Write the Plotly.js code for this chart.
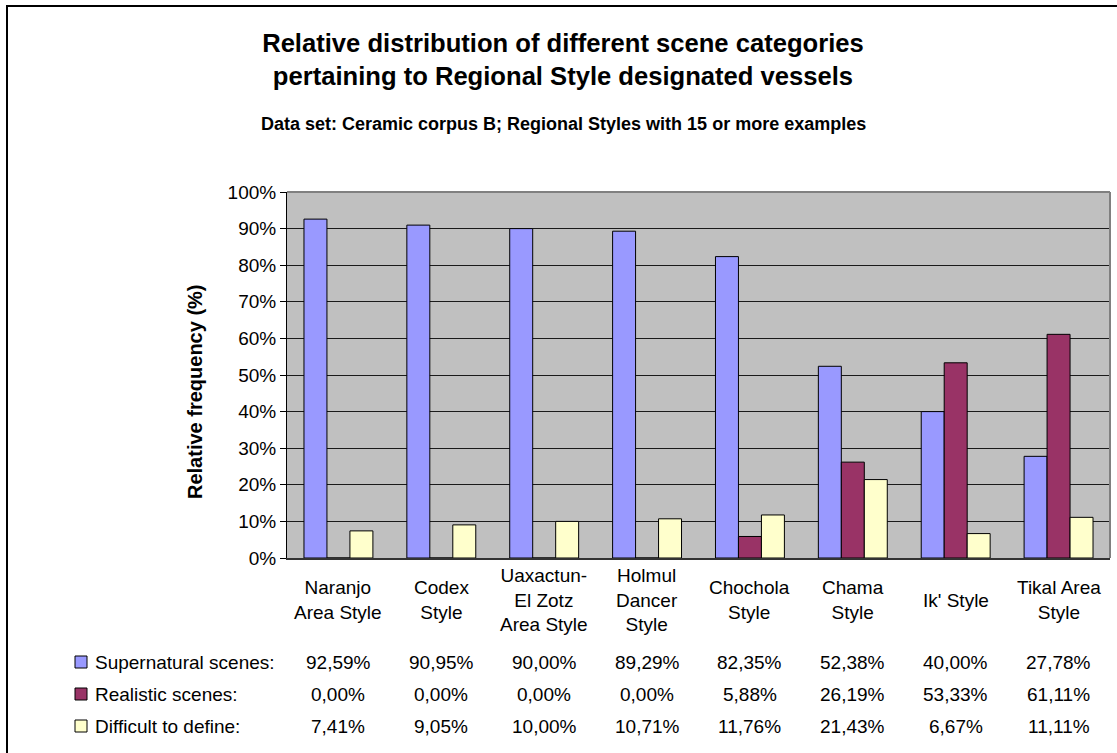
<!DOCTYPE html>
<html>
<head>
<meta charset="utf-8">
<script src="https://cdn.plot.ly/plotly-3.0.1.min.js"></script>
<style>
  html, body { margin: 0; padding: 0; background: #fff; }
  #chart { width: 1117px; height: 753px; }
</style>
</head>
<body>
<div id="chart"></div>
<script>
// ---- data ----
const categories = ["Naranjo<br>Area Style", "Codex<br>Style", "Uaxactun-<br>El Zotz<br>Area Style", "Holmul<br>Dancer<br>Style", "Chochola<br>Style", "Chama<br>Style", "Ik' Style", "Tikal Area<br>Style"];
const seriesNames = ["Supernatural scenes", "Realistic scenes", "Difficult to define"];
const supernatural = [92.59, 90.95, 90.00, 89.29, 82.35, 52.38, 40.00, 27.78];
const realistic = [0.00, 0.00, 0.00, 0.00, 5.88, 26.19, 53.33, 61.11];
const difficult = [7.41, 9.05, 10.00, 10.71, 11.76, 21.43, 6.67, 11.11];
const yTickValues = [0, 10, 20, 30, 40, 50, 60, 70, 80, 90, 100];
const titleText = "Relative distribution of different scene categories<br>pertaining to Regional Style designated vessels";
const subtitleText = "Data set: Ceramic corpus B; Regional Styles with 15 or more examples";
const yTitleText = "Relative frequency (%)";

// ---- styling ----
const colors = ["#9999FF", "#993366", "#FFFFCC"];
const FONT = "Liberation Sans, Arial, sans-serif";
const W = 1117, H = 753, ML = 287, MR = 7, MT = 192, MB = 195;
const PW = W - ML - MR, PH = H - MT - MB;
const px = x => (x - ML) / PW;
const py = y => (H - MB - y) / PH;

const allSeries = [supernatural, realistic, difficult];
const traces = allSeries.map((vals, i) => ({
  type: "bar",
  name: seriesNames[i],
  x: categories,
  y: vals,
  marker: { color: colors[i], line: { color: "#000", width: 1 } },
  hoverinfo: "x+y+name"
}));

const fmt = v => v.toFixed(2).replace(".", ",") + "%";
const rowY = [662, 694, 726];

const annotations = [];
// subtitle
annotations.push({
  text: "<b>" + subtitleText + "</b>", xref: "paper", yref: "paper",
  x: px(563), y: py(124), xanchor: "center", yanchor: "middle",
  showarrow: false, font: { family: FONT, size: 18, color: "#000" }
});
// y-axis title (placed like the original, slightly below plot centre)
annotations.push({
  text: "<b>" + yTitleText + "</b>", xref: "paper", yref: "paper",
  x: px(195), y: py(392), xanchor: "center", yanchor: "middle",
  textangle: -90, showarrow: false, font: { family: FONT, size: 20, color: "#000" }
});
// category labels (data-table header)
categories.forEach(c => {
  annotations.push({
    text: c, xref: "x", yref: "paper", x: c, y: py(600),
    xanchor: "center", yanchor: "middle", align: "center",
    showarrow: false, font: { family: FONT, size: 19, color: "#000" }
  });
});
// data-table rows
const shapes = [];
allSeries.forEach((vals, i) => {
  annotations.push({
    text: seriesNames[i] + ":", xref: "paper", yref: "paper",
    x: px(93), y: py(rowY[i]), xanchor: "left", yanchor: "middle",
    showarrow: false, font: { family: FONT, size: 19, color: "#000" }
  });
  shapes.push({
    type: "rect", xref: "paper", yref: "paper",
    x0: px(75), x1: px(87), y0: py(rowY[i] - 6), y1: py(rowY[i] + 6),
    fillcolor: colors[i], line: { color: "#000", width: 1 }
  });
  vals.forEach((v, j) => {
    annotations.push({
      text: fmt(v), xref: "x", yref: "paper", x: categories[j], y: py(rowY[i]),
      xanchor: "center", yanchor: "middle",
      showarrow: false, font: { family: FONT, size: 19, color: "#000" }
    });
  });
});
// plot-area border (top / right) in gray
shapes.push({ type: "line", xref: "paper", yref: "paper", x0: 0, x1: 1, y0: 1, y1: 1, line: { color: "#808080", width: 2 }, layer: "above" });
shapes.push({ type: "line", xref: "paper", yref: "paper", x0: 1, x1: 1, y0: 0, y1: 1, line: { color: "#808080", width: 2 }, layer: "above" });
// outer chart frame
shapes.push({
  type: "rect", xref: "paper", yref: "paper",
  x0: px(7), x1: px(1130), y0: py(770), y1: py(6),
  line: { color: "#000", width: 2 }, fillcolor: "rgba(0,0,0,0)"
});

const layout = {
  width: W, height: H,
  margin: { l: ML, r: MR, t: MT, b: MB, pad: 0 },
  paper_bgcolor: "#fff",
  plot_bgcolor: "#C0C0C0",
  font: { family: FONT, size: 19, color: "#000" },
  showlegend: false,
  barmode: "group",
  bargap: 0.33,
  bargroupgap: 0,
  title: {
    text: "<b>" + titleText + "</b>",
    font: { family: FONT, size: 25.6, color: "#000" },
    x: 0.504, xanchor: "center", xref: "container",
    y: 1 - 51.5 / H, yanchor: "middle", yref: "container"
  },
  xaxis: {
    type: "category",
    showticklabels: false,
    ticks: "",
    showgrid: false,
    showline: true, linecolor: "#333", linewidth: 2,
    zeroline: false, fixedrange: true
  },
  yaxis: {
    range: [0, 100],
    tickvals: yTickValues,
    ticktext: yTickValues.map(v => v + "%"),
    ticks: "outside", ticklen: 6, tickcolor: "#000", tickwidth: 1,
    showline: true, linecolor: "#000", linewidth: 1,
    showgrid: true, gridcolor: "#1a1a1a", gridwidth: 1,
    zeroline: false,
    tickfont: { family: FONT, size: 19, color: "#000" },
    automargin: false, fixedrange: true
  },
  annotations: annotations,
  shapes: shapes
};

Plotly.newPlot("chart", traces, layout, { displayModeBar: false, staticPlot: true });
</script>
</body>
</html>
